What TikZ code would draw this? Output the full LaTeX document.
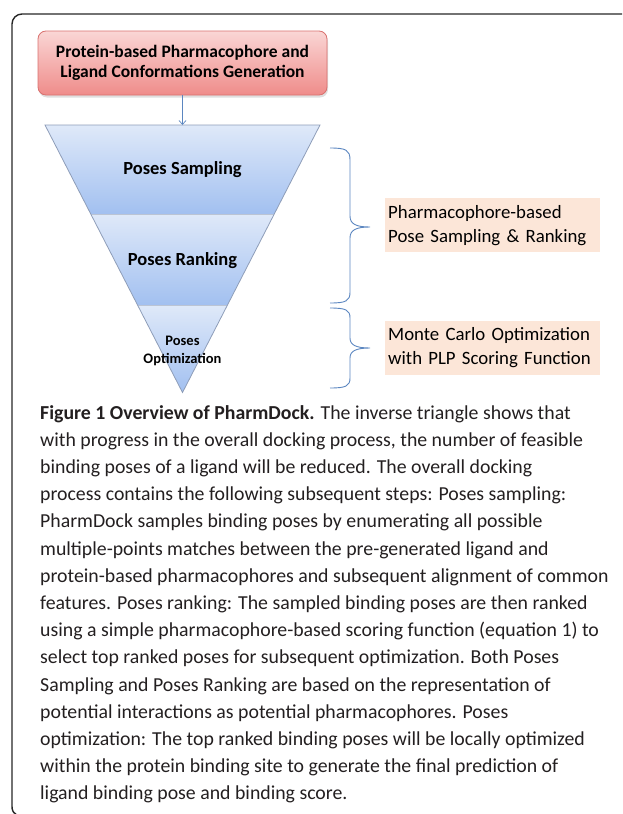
\documentclass[tikz,border=0pt]{standalone}
\usepackage{fontspec}
\setmainfont{Carlito}
\usetikzlibrary{arrows.meta,shadows}
\definecolor{redtop}{HTML}{FAD6D5}
\definecolor{redbot}{HTML}{EF8C8A}
\definecolor{redline}{HTML}{D9716F}
\definecolor{bluetop}{HTML}{DFE9F9}
\definecolor{bluebot}{HTML}{A2C0F0}
\definecolor{triline}{HTML}{8E9DB8}
\definecolor{braceblue}{HTML}{5B86C0}
\definecolor{peach}{HTML}{FCE6D8}
\definecolor{captext}{HTML}{231F20}
\tikzset{
  framestyle/.style={line width=1.4pt, draw=black!85},
  redbox/.style={draw=redline, line width=0.8pt, rounded corners=8pt, top color=redtop, bottom color=redbot,
     minimum width=289pt, minimum height=64pt, align=center, inner sep=0pt,
     font=\fontsize{17.5}{20.5}\selectfont\bfseries,
     drop shadow={opacity=0.25, shadow xshift=1pt, shadow yshift=-2.5pt}},
  trisec/.style={top color=bluetop, bottom color=bluebot, draw=none},
  triedge/.style={draw=triline, line width=0.8pt},
  tridiv/.style={draw=triline!60, line width=0.8pt},
  trilabel/.style={font=\fontsize{18.5}{22}\selectfont\bfseries, align=center, inner sep=0pt},
  trismall/.style={font=\fontsize{14.5}{18}\selectfont\bfseries, align=center, inner sep=0pt},
  obox/.style={fill=peach, draw=none, anchor=north west, text width=209pt, inner xsep=3pt, inner ysep=0pt,
     minimum height=54pt, align=left, font=\fontsize{18.8}{24}\selectfont},
  bracestyle/.style={draw=braceblue, line width=0.9pt},
  flowarrow/.style={draw=braceblue, line width=0.7pt, -{Straight Barb[length=4pt,width=7pt]}},
  caption/.style={anchor=north west, inner sep=0pt, align=left, text=captext,
     font=\fontsize{19.8}{27.2}\selectfont}
}
\begin{document}
\begin{tikzpicture}[x=1pt,y=-1pt]
\useasboundingbox (0,0) rectangle (622,814);
% frame
\draw[framestyle] (622,14) -- (22,14) to[out=180,in=90] (12,24) -- (12,806) to[out=-90,in=160] (16,814);
% top box
\node[redbox] (gen) at (182.5,63) {Protein-based Pharmacophore and\\Ligand Conformations Generation};
% triangle
\coordinate (tl) at (45,125);
\coordinate (tr) at (320,125);
\coordinate (tc) at (182.5,125);
\coordinate (al) at (90.8,214);
\coordinate (ar) at (274.2,214);
\coordinate (bl) at (137.6,305);
\coordinate (br) at (227.4,305);
\coordinate (apex) at (182.5,392.5);
\path[trisec] (tl) -- (tr) -- (ar) -- (al) -- cycle;
\path[trisec] (al) -- (ar) -- (br) -- (bl) -- cycle;
\path[trisec] (bl) -- (br) -- (apex) -- cycle;
\draw[tridiv] (al) -- (ar);
\draw[tridiv] (bl) -- (br);
\draw[triedge] (tl) -- (tr) -- (apex) -- cycle;
\node[trilabel] (samp) at (182.5,170) {Poses Sampling};
\node[trilabel] (rank) at (182.5,261) {Poses Ranking};
\node[trismall] (opt) at (182.5,351) {Poses\\Optimization};
% arrow
\draw[flowarrow] (gen.south) -- (tc);
% braces
\draw[bracestyle] (330,148) .. controls (346,148) and (350,150) .. (350,160) -- (350,216)
   .. controls (350,224) and (356,227) .. (370,227)
   .. controls (356,227) and (350,230) .. (350,238) -- (350,292)
   .. controls (350,301) and (346,303) .. (330,303);
\draw[bracestyle] (330,308) .. controls (346,308) and (350,310) .. (350,318) -- (350,338)
   .. controls (350,345) and (356,348) .. (370,348)
   .. controls (356,348) and (350,351) .. (350,358) -- (350,378)
   .. controls (350,386) and (346,388) .. (330,388);
% side boxes
\node[obox] (pb) at (385,198) {\mbox{Pharmacophore-based}\\\mbox{Pose Sampling \& Ranking}};
\node[obox] (mc) at (385,320.5) {\mbox{Monte Carlo Optimization}\\\mbox{with PLP Scoring Function}};
% caption
\node[caption] (cap) at (40,405) {\textbf{Figure 1 Overview of PharmDock.} The inverse triangle shows that\\
with progress in the overall docking process, the number of feasible\\
binding poses of a ligand will be reduced. The overall docking\\
process contains the following subsequent steps: Poses sampling:\\
PharmDock samples binding poses by enumerating all possible\\
multiple-points matches between the pre-generated ligand and\\
protein-based pharmacophores and subsequent alignment of common\\
features. Poses ranking: The sampled binding poses are then ranked\\
using a simple pharmacophore-based scoring function (equation 1) to\\
select top ranked poses for subsequent optimization. Both Poses\\
Sampling and Poses Ranking are based on the representation of\\
potential interactions as potential pharmacophores. Poses\\
optimization: The top ranked binding poses will be locally optimized\\
within the protein binding site to generate the final prediction of\\
ligand binding pose and binding score.};
\end{tikzpicture}
\end{document}
